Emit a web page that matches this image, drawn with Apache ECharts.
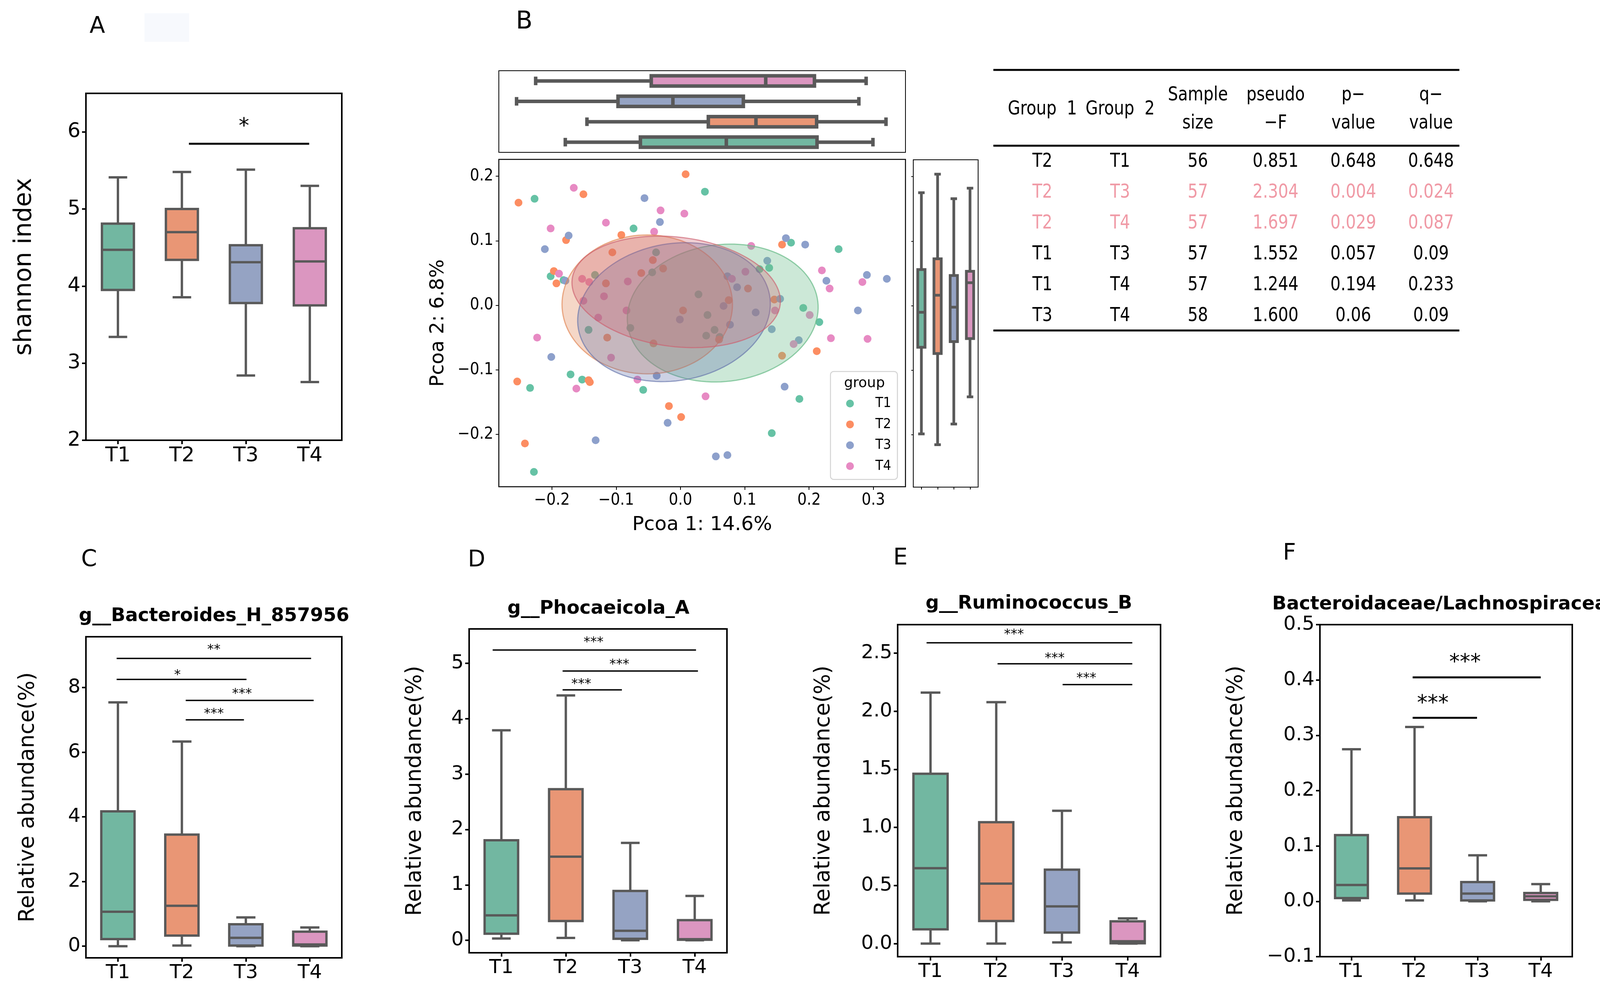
<!DOCTYPE html>
<html><head><meta charset="utf-8">
<script src="https://cdn.jsdelivr.net/npm/echarts@6/dist/echarts.min.js"></script>
<style>html,body{margin:0;padding:0;background:#fff;}#c{width:4214px;height:2542px;}</style>
</head><body><div id="c"></div>
<script>
// ---------------- DATA ----------------
const groups = ['T1', 'T2', 'T3', 'T4'];

// box stats: [min, Q1, median, Q3, max] per group
const shannonStats = [[3.34, 3.95, 4.47, 4.81, 5.41], [3.855, 4.34, 4.70, 5.00, 5.48], [2.84, 3.78, 4.31, 4.53, 5.51], [2.755, 3.75, 4.32, 4.75, 5.30]];
const shannonTicks = [2, 3, 4, 5, 6];
// significance: [x1, x2, y, starX, starY] on a 0.5..4.5 group scale
const shannonSig = [[2.11, 3.99, 5.846, 2.97, 6.12]];
const shannonSigText = ['*'];

// PCoA scatter points [PC1, PC2]
const pcoaT1 = [[-0.227,0.165],[0.038,0.176],[-0.073,0.119],[0.172,0.097],[0.246,0.087],[0.138,0.058],[0.123,0.056],[-0.202,0.045],[-0.182,0.039],[-0.133,0.047],[-0.038,0.082],[0.028,0.017],[-0.044,0.051],[-0.078,-0.035],[-0.143,-0.038],[0.042,-0.015],[0.053,-0.038],[0.040,-0.047],[0.061,-0.049],[0.191,-0.004],[0.216,-0.026],[-0.171,-0.107],[-0.153,-0.115],[-0.234,-0.128],[-0.058,-0.131],[0.185,-0.145],[0.142,-0.198],[-0.228,-0.258]];
const pcoaT2 = [[0.008,0.203],[-0.252,0.159],[-0.151,0.172],[-0.092,0.109],[-0.178,0.101],[-0.106,0.082],[-0.197,0.053],[-0.193,0.034],[-0.043,0.070],[-0.027,0.057],[-0.061,0.050],[-0.116,0.034],[0.158,0.094],[0.105,0.026],[0.075,0.008],[0.146,0.009],[0.004,-0.008],[-0.114,-0.050],[0.060,-0.053],[-0.042,-0.059],[0.158,-0.078],[0.212,-0.071],[-0.254,-0.118],[-0.143,-0.116],[-0.141,-0.119],[-0.018,-0.156],[0.001,-0.173],[-0.242,-0.214]];
const pcoaT3 = [[-0.056,0.166],[-0.032,0.129],[-0.174,0.108],[-0.211,0.087],[0.164,0.104],[0.194,0.094],[0.135,0.069],[-0.179,0.038],[0.073,0.045],[0.088,0.028],[0.155,0.010],[0.227,0.038],[0.290,0.047],[0.321,0.041],[0.067,-0.001],[0.117,-0.011],[-0.001,-0.022],[0.077,-0.030],[0.276,-0.008],[0.142,-0.037],[0.184,-0.054],[-0.201,-0.080],[-0.037,-0.109],[0.162,-0.126],[-0.020,-0.182],[-0.132,-0.209],[0.055,-0.234],[0.073,-0.232]];
const pcoaT4 = [[-0.166,0.182],[-0.031,0.147],[0.006,0.142],[-0.116,0.128],[-0.202,0.119],[-0.041,0.114],[0.110,0.092],[-0.189,0.049],[-0.153,0.041],[-0.142,0.036],[-0.082,0.037],[0.101,0.052],[0.080,0.041],[-0.119,0.014],[-0.151,0.007],[-0.084,-0.008],[-0.128,-0.019],[0.220,0.054],[0.232,0.026],[0.283,0.036],[0.147,-0.008],[0.201,-0.015],[0.176,-0.060],[0.234,-0.051],[0.291,-0.052],[-0.223,-0.050],[-0.108,-0.081],[-0.067,-0.115],[-0.162,-0.129],[0.039,-0.141]];
// confidence ellipses: [centerPC1, centerPC2, semiAxisPC1, semiAxisPC2, tiltDeg]
const pcoaEllipses = [[0.0657, -0.012, 0.149, 0.106, 7], [-0.0517, 0.0014, 0.1326, 0.1076, 0], [-0.0101, -0.0106, 0.151, 0.106, 10], [-0.0067, 0.0208, 0.163, 0.0847, -7]];
// marginal box stats [min, Q1, median, Q3, max]
const pc1Stats = [[-0.1792, -0.0624, 0.0713, 0.2124, 0.2994], [-0.1455, 0.0433, 0.1174, 0.2118, 0.3197], [-0.255, -0.0972, -0.0118, 0.0978, 0.2775], [-0.2253, -0.0455, 0.1326, 0.2084, 0.2888]];
const pc2Stats = [[-0.1986, -0.0644, -0.0102, 0.056, 0.175], [-0.2153, -0.0741, 0.0162, 0.0727, 0.2037], [-0.1833, -0.0556, -0.0023, 0.0468, 0.1657], [-0.1412, -0.0509, 0.0356, 0.0532, 0.182]];
const pcoaXTicks = [-0.2, -0.1, 0, 0.1, 0.2, 0.3];
const pcoaYTicks = [-0.2, -0.1, 0, 0.1, 0.2];

// PERMANOVA table
const tableHeaders = ['Group  1', 'Group  2', 'Sample\nsize', 'pseudo\n\u2212F', 'p\u2212\nvalue', 'q\u2212\nvalue'];
const tableGroup1 = ['T2', 'T2', 'T2', 'T1', 'T1', 'T3'];
const tableGroup2 = ['T1', 'T3', 'T4', 'T3', 'T4', 'T4'];
const tableSampleSize = ['56', '57', '57', '57', '57', '58'];
const tablePseudoF = ['0.851', '2.304', '1.697', '1.552', '1.244', '1.600'];
const tablePValue = ['0.648', '0.004', '0.029', '0.057', '0.194', '0.06'];
const tableQValue = ['0.648', '0.024', '0.087', '0.09', '0.233', '0.09'];

// Panel C
const bacteroidesStats = [[0.0, 0.22, 1.065, 4.17, 7.54], [0.02, 0.33, 1.25, 3.45, 6.33], [0.0, 0.02, 0.26, 0.68, 0.89], [0.0, 0.02, 0.055, 0.45, 0.58]];
const bacteroidesTicks = [0, 2, 4, 6, 8];
const bacteroidesSig = [[0.98, 4.02, 8.90, 2.50, 9.24], [0.98, 3.01, 8.25, 1.93, 8.46], [2.06, 4.06, 7.60, 2.94, 7.88], [2.06, 2.97, 7.00, 2.50, 7.26]];
const bacteroidesSigText = ['**', '*', '***', '***'];
// Panel D
const phocaeicolaStats = [[0.032, 0.118, 0.45, 1.806, 3.79], [0.043, 0.348, 1.51, 2.728, 4.42], [0.0, 0.027, 0.171, 0.89, 1.758], [0.0, 0.01, 0.02, 0.364, 0.80]];
const phocaeicolaTicks = [0, 1, 2, 3, 4, 5];
const phocaeicolaSig = [[0.865, 4.02, 5.24, 2.43, 5.42], [1.95, 4.05, 4.86, 2.83, 5.02], [1.95, 2.87, 4.52, 2.24, 4.67]];
const phocaeicolaSigText = ['***', '***', '***'];
// Panel E
const ruminococcusStats = [[0.0, 0.123, 0.649, 1.462, 2.16], [0.0, 0.194, 0.516, 1.045, 2.078], [0.01, 0.095, 0.32, 0.636, 1.143], [0.0, 0.003, 0.02, 0.192, 0.217]];
const ruminococcusTicks = [0, 0.5, 1.0, 1.5, 2.0, 2.5];
const ruminococcusSig = [[0.94, 4.07, 2.589, 2.27, 2.68], [2.02, 4.07, 2.408, 2.89, 2.477], [3.01, 4.07, 2.229, 3.37, 2.303]];
const ruminococcusSigText = ['***', '***', '***'];
// Panel F
const ratioStats = [[0.0016, 0.0059, 0.0295, 0.1197, 0.2748], [0.0016, 0.014, 0.0596, 0.152, 0.315], [0.0, 0.0016, 0.014, 0.0349, 0.0832], [0.0, 0.0027, 0.009, 0.015, 0.0311]];
const ratioTicks = [-0.1, 0, 0.1, 0.2, 0.3, 0.4, 0.5];
const ratioSig = [[1.97, 4.0, 0.4047, 2.80, 0.439], [1.97, 2.99, 0.3317, 2.29, 0.365]];
const ratioSigText = ['***', '***'];

// ---------------- STYLE ----------------
const set2 = ['#66c2a5', '#fc8d62', '#8da0cb', '#e78ac3'];
const boxFill = ['#72b7a1', '#e99675', '#95a3c3', '#db96c0'];
const boxEdge = '#595959';
const ellFill = ['rgba(110,190,140,0.35)', 'rgba(225,130,80,0.32)', 'rgba(100,115,170,0.32)', 'rgba(205,95,110,0.30)'];
const ellEdge = ['rgba(110,190,140,0.75)', 'rgba(225,130,80,0.65)', 'rgba(100,115,170,0.65)', 'rgba(205,95,110,0.65)'];
const FONT = "'DejaVu Sans', sans-serif";
const COND = "'DejaVu Sans Condensed', 'Liberation Sans Narrow', 'DejaVu Sans', sans-serif";
const minusFmt = v => (v < 0 ? '\u2212' : '') + Math.abs(v).toFixed(1);

function boxRender(horizontal, boxFrac, capFrac, lw) {
  return function (params, api) {
    const c = api.value(0);
    const v = [1, 2, 3, 4, 5].map(i => api.value(i));
    const P = horizontal ? (val => api.coord([val, c])) : (val => api.coord([c, val]));
    const band = horizontal ? api.size([0, 1])[1] : api.size([1, 0])[0];
    const bw = band * boxFrac, cw = band * capFrac;
    const p = v.map(P);
    const ls = { stroke: boxEdge, lineWidth: lw, fill: null };
    const line = (x1, y1, x2, y2) => ({ type: 'line', shape: { x1, y1, x2, y2 }, style: ls });
    if (!horizontal) {
      const x = p[0][0];
      return { type: 'group', children: [
        line(x, p[4][1], x, p[3][1]), line(x, p[1][1], x, p[0][1]),
        line(x - cw / 2, p[4][1], x + cw / 2, p[4][1]), line(x - cw / 2, p[0][1], x + cw / 2, p[0][1]),
        { type: 'rect', shape: { x: x - bw / 2, y: p[3][1], width: bw, height: p[1][1] - p[3][1] }, style: { fill: boxFill[c], stroke: boxEdge, lineWidth: lw } },
        line(x - bw / 2, p[2][1], x + bw / 2, p[2][1])
      ] };
    }
    const y = p[0][1];
    return { type: 'group', children: [
      line(p[4][0], y, p[3][0], y), line(p[1][0], y, p[0][0], y),
      line(p[4][0], y - cw / 2, p[4][0], y + cw / 2), line(p[0][0], y - cw / 2, p[0][0], y + cw / 2),
      { type: 'rect', shape: { x: p[1][0], y: y - bw / 2, width: p[3][0] - p[1][0], height: bw }, style: { fill: boxFill[c], stroke: boxEdge, lineWidth: lw } },
      line(p[2][0], y - bw / 2, p[2][0], y + bw / 2)
    ] };
  };
}
function txtStyle(text, fs, fill, extra) {
  return Object.assign({ text, fontSize: fs, fontFamily: FONT, fill, align: 'center', verticalAlign: 'middle', textAlign: 'center', textVerticalAlign: 'middle' }, extra || {});
}
function sigRender(texts, fs, lw) {
  return function (params, api) {
    const a = api.coord([api.value(0), api.value(2)]);
    const b = api.coord([api.value(1), api.value(2)]);
    const t = api.coord([api.value(3), api.value(4)]);
    return { type: 'group', children: [
      { type: 'line', shape: { x1: a[0], y1: a[1], x2: b[0], y2: b[1] }, style: { stroke: '#000', lineWidth: lw } },
      { type: 'text', x: t[0], y: t[1] + 0.21 * fs, style: txtStyle(texts[params.dataIndex], fs, '#000') }
    ] };
  };
}
function ellipseRender(params, api) {
  const c = api.coord([api.value(0), api.value(1)]);
  const rx = api.size([api.value(2), 0])[0];
  const ry = api.size([0, api.value(3)])[1];
  const th = api.value(4) * Math.PI / 180;
  const pts = [];
  for (let k = 0; k < 120; k++) {
    const t = k / 120 * Math.PI * 2;
    const dx = rx * Math.cos(t), dy = ry * Math.sin(t);
    pts.push([c[0] + dx * Math.cos(th) - dy * Math.sin(th), c[1] - (dx * Math.sin(th) + dy * Math.cos(th))]);
  }
  const i = params.dataIndex;
  return { type: 'polygon', shape: { points: pts }, style: { fill: ellFill[i], stroke: ellEdge[i], lineWidth: 3 } };
}
const statData = s => s.map((r, i) => [i].concat(r));

// table cells built from the column arrays
const tableData = [], tableText = [], tableColor = [];
for (let r = 0; r < tableGroup1.length; r++) {
  const row = [tableGroup1[r], tableGroup2[r], tableSampleSize[r], tablePseudoF[r], tablePValue[r], tableQValue[r]];
  const col = parseFloat(tablePValue[r]) < 0.05 ? '#f09aa6' : '#000';
  row.forEach((txt, c) => { tableData.push([c, r]); tableText.push(txt); tableColor.push(col); });
}
function tableCellRender(params, api) {
  const p = api.coord([api.value(0), api.value(1)]);
  const i = params.dataIndex;
  return { type: 'text', x: p[0], y: p[1], scaleX: 0.82, style: txtStyle(tableText[i], 50, tableColor[i]) };
}
function tableHeaderRender(params, api) {
  const c = api.value(0);
  const p0 = api.coord([c, 0]), p1 = api.coord([c, 1]);
  const y = p0[1] - 1.705 * (p1[1] - p0[1]);
  return { type: 'text', x: p0[0], y, scaleX: 0.82, style: txtStyle(tableHeaders[params.dataIndex], 50, '#000', { lineHeight: 72 }) };
}

function gridDef(left, top, width, height, bw) {
  return { left, top, width, height, show: true, borderColor: '#000', borderWidth: bw, backgroundColor: 'transparent', outerBoundsMode: 'none', containLabel: false };
}
function catAxis(gi, fs, margin, tickLen, tickW) {
  return { gridIndex: gi, type: 'category', data: groups, axisLine: { show: false, onZero: false },
    axisTick: { show: true, alignWithLabel: true, length: tickLen, lineStyle: { color: '#000', width: tickW } },
    axisLabel: { fontSize: fs, color: '#000', margin, fontFamily: FONT }, splitLine: { show: false } };
}
function hiddenVal(gi) { return { gridIndex: gi, type: 'value', min: 0.5, max: 4.5, show: false, axisLine: { onZero: false } }; }
function valAxis(gi, min, max, ticks, fmt, fs, name, nameFs, nameGap) {
  return { gridIndex: gi, type: 'value', min, max, axisLine: { show: false, onZero: false },
    axisTick: { show: true, length: 10, lineStyle: { color: '#000', width: 4 }, customValues: ticks },
    axisLabel: { customValues: ticks, formatter: fmt, fontSize: fs, color: '#000', margin: 14, fontFamily: FONT },
    splitLine: { show: false }, name, nameLocation: 'middle', nameGap,
    nameTextStyle: { fontSize: nameFs, color: '#000', fontFamily: FONT } };
}
function textEl(text, x, y, fs, extra) {
  return { type: 'text', x, y, style: txtStyle(text, fs, '#000', extra) };
}

const chart = echarts.init(document.getElementById('c'), null, { renderer: 'canvas' });
const option = {
  animation: false,
  backgroundColor: '#fff',
  grid: [
    gridDef(220, 239, 655, 888, 4),      // 0 A
    gridDef(1277, 408, 1041, 838, 2.5),  // 1 B scatter
    gridDef(1277, 181, 1041, 209, 2),    // 2 B top marginal
    gridDef(2338, 409, 166, 838, 2),     // 3 B right marginal
    { left: 2569, top: 375, width: 1194, height: 473, show: false, outerBoundsMode: 'none' }, // 4 table
    gridDef(220, 1630, 655, 822, 4),     // 5 C
    gridDef(1201, 1610, 660, 829, 4),    // 6 D
    gridDef(2298, 1599, 673, 850, 4),    // 7 E
    gridDef(3379, 1599, 646, 850, 4)     // 8 F
  ],
  xAxis: [
    catAxis(0, 52, 14, 10, 4),
    hiddenVal(0),
    { gridIndex: 1, type: 'value', min: -0.2826, max: 0.35, axisLine: { show: false, onZero: false },
      axisTick: { show: true, length: 8, lineStyle: { color: '#000', width: 2 }, customValues: pcoaXTicks },
      axisLabel: { customValues: pcoaXTicks, formatter: minusFmt, fontSize: 42, color: '#000', margin: 14, fontFamily: COND },
      splitLine: { show: false }, name: 'Pcoa 1: 14.6%', nameLocation: 'middle', nameGap: 73,
      nameTextStyle: { fontSize: 50, color: '#000', fontFamily: FONT } },
    { gridIndex: 2, type: 'value', min: -0.2826, max: 0.35, show: false, axisLine: { onZero: false } },
    { gridIndex: 3, type: 'category', data: groups, axisLine: { show: false, onZero: false },
      axisTick: { show: true, alignWithLabel: true, length: 6, lineStyle: { color: '#000', width: 2 } },
      axisLabel: { show: false }, splitLine: { show: false } },
    { gridIndex: 4, type: 'category', data: tableHeaders, show: false, axisLine: { onZero: false } },
    catAxis(5, 50, 14, 10, 4), hiddenVal(5),
    catAxis(6, 50, 14, 10, 4), hiddenVal(6),
    catAxis(7, 50, 14, 10, 4), hiddenVal(7),
    catAxis(8, 50, 14, 10, 4), hiddenVal(8)
  ],
  yAxis: [
    valAxis(0, 2, 6.5, shannonTicks, v => String(v), 52, 'shannon index', 62, 126),
    { gridIndex: 1, type: 'value', min: -0.281, max: 0.226, axisLine: { show: false, onZero: false },
      axisTick: { show: true, length: 8, lineStyle: { color: '#000', width: 2 }, customValues: pcoaYTicks },
      axisLabel: { customValues: pcoaYTicks, formatter: minusFmt, fontSize: 42, color: '#000', margin: 14, fontFamily: COND },
      splitLine: { show: false }, name: 'Pcoa 2: 6.8%', nameLocation: 'middle', nameGap: 130,
      nameTextStyle: { fontSize: 50, color: '#000', fontFamily: FONT } },
    { gridIndex: 2, type: 'category', data: groups, show: false, axisLine: { onZero: false } },
    { gridIndex: 3, type: 'value', min: -0.281, max: 0.226, axisLine: { show: false, onZero: false },
      axisTick: { show: true, length: 5, lineStyle: { color: '#000', width: 2 }, customValues: pcoaYTicks },
      axisLabel: { show: false }, splitLine: { show: false } },
    { gridIndex: 4, type: 'category', data: tableGroup1.map((g, i) => 'row' + i), inverse: true, show: false, axisLine: { onZero: false } },
    valAxis(5, -0.36, 9.57, bacteroidesTicks, v => String(v), 50, 'Relative abundance(%)', 55, 121),
    valAxis(6, -0.225, 5.62, phocaeicolaTicks, v => String(v), 50, 'Relative abundance(%)', 55, 111),
    valAxis(7, -0.1125, 2.745, ruminococcusTicks, v => v.toFixed(1), 50, 'Relative abundance(%)', 55, 162),
    valAxis(8, -0.1, 0.5, ratioTicks, minusFmt, 50, 'Relative abundance(%)', 55, 187)
  ],
  legend: {
    data: groups, orient: 'vertical', left: 2126, top: 951, padding: [64, 16, 16, 40],
    itemWidth: 20, itemHeight: 20, itemGap: 17.4, icon: 'circle',
    textStyle: { fontSize: 36, lineHeight: 36, color: '#000', fontFamily: COND, padding: [0, 0, 0, 50] },
    borderColor: '#d3d3d3', borderWidth: 2.5, borderRadius: 8, backgroundColor: 'rgba(255,255,255,0.8)', z: 10
  },
  graphic: [
    { type: 'rect', shape: { x: 370, y: 34, width: 114, height: 73 }, style: { fill: '#f7f9fd' } },
    textEl('A', 249, 69, 58), textEl('B', 1342, 57, 62), textEl('C', 228, 1434, 58),
    textEl('D', 1220, 1435, 58), textEl('E', 2305, 1430, 58), textEl('F', 3301, 1418, 58),
    textEl('g__Bacteroides_H_857956', 548, 1578, 48, { fontWeight: 'bold' }),
    textEl('g__Phocaeicola_A', 1532, 1559, 48, { fontWeight: 'bold' }),
    textEl('g__Ruminococcus_B', 2634, 1546, 48, { fontWeight: 'bold' }),
    textEl('Bacteroidaceae/Lachnospiraceae', 3702, 1548, 48, { fontWeight: 'bold' }),
    Object.assign(textEl('group', 2213, 982, 36), { z: 100 }),
    { type: 'line', shape: { x1: 2543, y1: 179, x2: 3736, y2: 179 }, style: { stroke: '#000', lineWidth: 5 } },
    { type: 'line', shape: { x1: 2543, y1: 373, x2: 3736, y2: 373 }, style: { stroke: '#000', lineWidth: 5 } },
    { type: 'line', shape: { x1: 2543, y1: 846, x2: 3736, y2: 846 }, style: { stroke: '#000', lineWidth: 5 } }
  ],
  series: [
    { type: 'custom', name: 'shannon', xAxisIndex: 0, yAxisIndex: 0, data: statData(shannonStats), encode: { x: 0, y: [1, 2, 3, 4, 5] }, renderItem: boxRender(false, 0.5, 0.29, 6) },
    { type: 'custom', name: 'shannon sig', xAxisIndex: 1, yAxisIndex: 0, data: shannonSig, encode: { x: [0, 1], y: 2 }, renderItem: sigRender(shannonSigText, 54, 5) },

    { type: 'scatter', name: 'T1', xAxisIndex: 2, yAxisIndex: 1, data: pcoaT1, symbolSize: 20, itemStyle: { color: set2[0], opacity: 1 }, z: 2 },
    { type: 'scatter', name: 'T2', xAxisIndex: 2, yAxisIndex: 1, data: pcoaT2, symbolSize: 20, itemStyle: { color: set2[1], opacity: 1 }, z: 2 },
    { type: 'scatter', name: 'T3', xAxisIndex: 2, yAxisIndex: 1, data: pcoaT3, symbolSize: 20, itemStyle: { color: set2[2], opacity: 1 }, z: 2 },
    { type: 'scatter', name: 'T4', xAxisIndex: 2, yAxisIndex: 1, data: pcoaT4, symbolSize: 20, itemStyle: { color: set2[3], opacity: 1 }, z: 2 },
    { type: 'custom', name: 'ellipses', xAxisIndex: 2, yAxisIndex: 1, data: pcoaEllipses, encode: { x: 0, y: 1 }, renderItem: ellipseRender, z: 3 },

    { type: 'custom', name: 'pc1 box', xAxisIndex: 3, yAxisIndex: 2, data: statData(pc1Stats), encode: { y: 0, x: [1, 2, 3, 4, 5] }, renderItem: boxRender(true, 0.5, 0.42, 9) },
    { type: 'custom', name: 'pc2 box', xAxisIndex: 4, yAxisIndex: 3, data: statData(pc2Stats), encode: { x: 0, y: [1, 2, 3, 4, 5] }, renderItem: boxRender(false, 0.45, 0.4, 7) },

    { type: 'custom', name: 'table header', xAxisIndex: 5, yAxisIndex: 4, data: tableHeaders.map((h, i) => [i, 0]), encode: { x: 0, y: 1 }, renderItem: tableHeaderRender },
    { type: 'custom', name: 'table', xAxisIndex: 5, yAxisIndex: 4, data: tableData, encode: { x: 0, y: 1 }, renderItem: tableCellRender },

    { type: 'custom', name: 'C box', xAxisIndex: 6, yAxisIndex: 5, data: statData(bacteroidesStats), encode: { x: 0, y: [1, 2, 3, 4, 5] }, renderItem: boxRender(false, 0.52, 0.3, 6) },
    { type: 'custom', name: 'C sig', xAxisIndex: 7, yAxisIndex: 5, data: bacteroidesSig, encode: { x: [0, 1], y: 2 }, renderItem: sigRender(bacteroidesSigText, 34, 3.5) },
    { type: 'custom', name: 'D box', xAxisIndex: 8, yAxisIndex: 6, data: statData(phocaeicolaStats), encode: { x: 0, y: [1, 2, 3, 4, 5] }, renderItem: boxRender(false, 0.52, 0.29, 6) },
    { type: 'custom', name: 'D sig', xAxisIndex: 9, yAxisIndex: 6, data: phocaeicolaSig, encode: { x: [0, 1], y: 2 }, renderItem: sigRender(phocaeicolaSigText, 34, 3.5) },
    { type: 'custom', name: 'E box', xAxisIndex: 10, yAxisIndex: 7, data: statData(ruminococcusStats), encode: { x: 0, y: [1, 2, 3, 4, 5] }, renderItem: boxRender(false, 0.52, 0.3, 6) },
    { type: 'custom', name: 'E sig', xAxisIndex: 11, yAxisIndex: 7, data: ruminococcusSig, encode: { x: [0, 1], y: 2 }, renderItem: sigRender(ruminococcusSigText, 34, 3.5) },
    { type: 'custom', name: 'F box', xAxisIndex: 12, yAxisIndex: 8, data: statData(ratioStats), encode: { x: 0, y: [1, 2, 3, 4, 5] }, renderItem: boxRender(false, 0.52, 0.3, 6) },
    { type: 'custom', name: 'F sig', xAxisIndex: 13, yAxisIndex: 8, data: ratioSig, encode: { x: [0, 1], y: 2 }, renderItem: sigRender(ratioSigText, 54, 5) }
  ]
};
chart.setOption(option);
</script>
</body></html>
